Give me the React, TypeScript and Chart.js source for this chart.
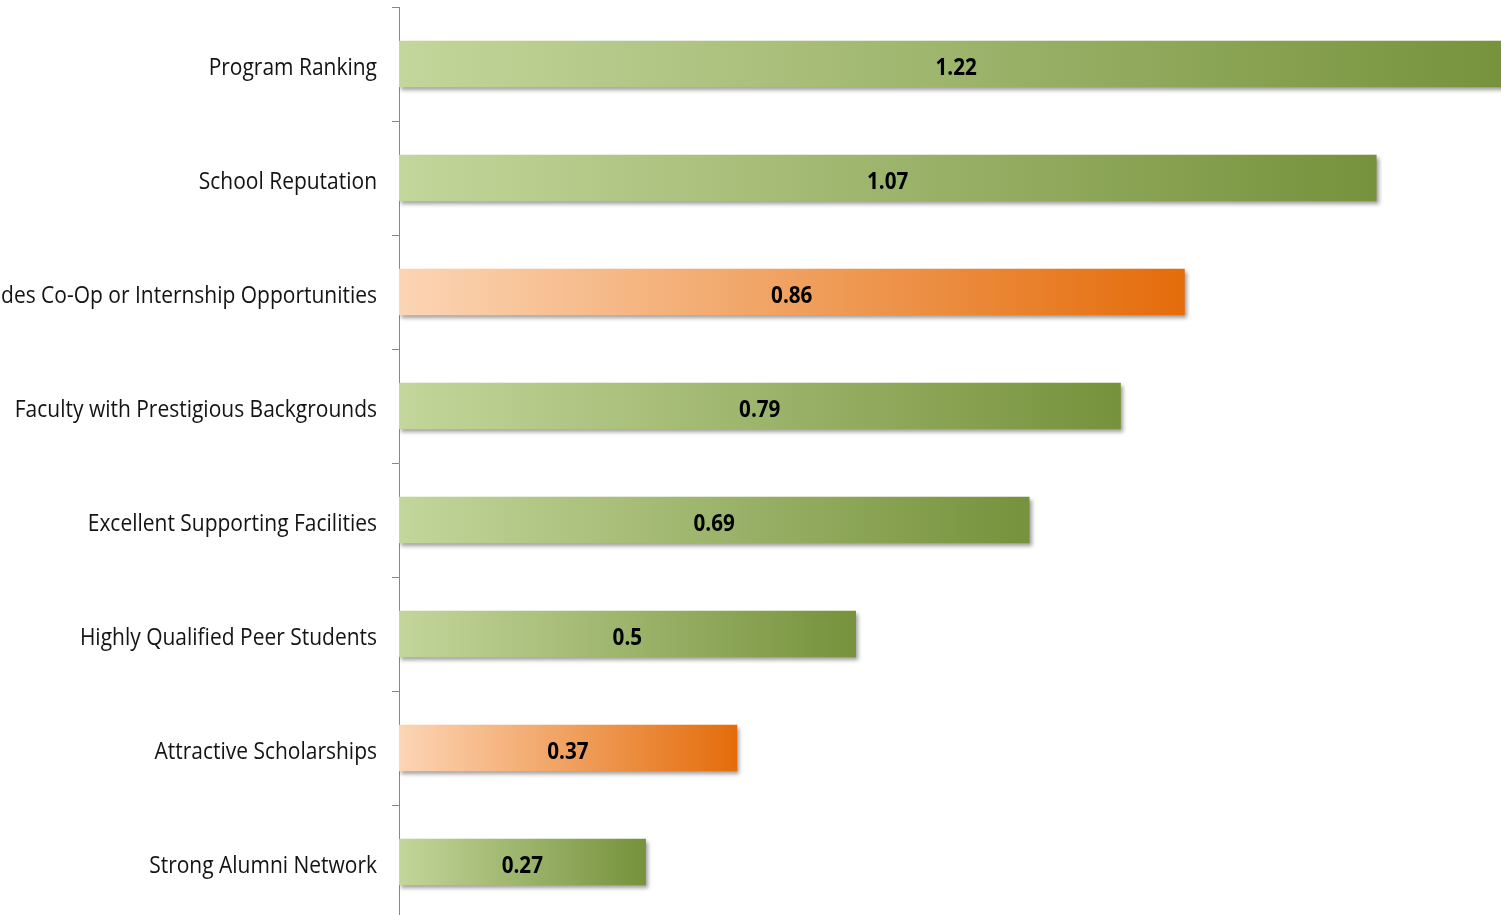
import React, { useEffect, useRef } from "react";
import { Chart, registerables } from "chart.js";

Chart.register(...registerables);

const CATEGORIES = [
  "Program Ranking",
  "School Reputation",
  "Provides Co-Op or Internship Opportunities",
  "Faculty with Prestigious Backgrounds",
  "Excellent Supporting Facilities",
  "Highly Qualified Peer Students",
  "Attractive Scholarships",
  "Strong Alumni Network",
];
const VALUES = [1.22, 1.07, 0.86, 0.79, 0.69, 0.5, 0.37, 0.27];
const VALUE_LABELS = ["1.22", "1.07", "0.86", "0.79", "0.69", "0.5", "0.37", "0.27"];
const HIGHLIGHTED = ["Provides Co-Op or Internship Opportunities", "Attractive Scholarships"];

const GREEN = ["#c3d69b", "#76923c"];
const ORANGE = ["#fcd5b5", "#e46c0a"];
const AXIS_COLOR = "#878787";
const LABEL_FONT = "24px 'Open Sans'";
const LABEL_SCALE = 0.874;
const VALUE_FONT = "bold 24px 'Open Sans'";
const VALUE_SCALE = 0.86;

const shadowPlugin = {
  id: "barShadow",
  beforeDatasetsDraw(chart: any) {
    const ctx = chart.ctx;
    ctx.save();
    ctx.shadowColor = "rgba(0,0,0,0.38)";
    ctx.shadowBlur = 4;
    ctx.shadowOffsetX = 2;
    ctx.shadowOffsetY = 3;
  },
  afterDatasetsDraw(chart: any) {
    chart.ctx.restore();
  },
};

const labelPlugin = {
  id: "customLabels",
  afterDraw(chart: any) {
    const ctx = chart.ctx;
    const xs = chart.scales.x;
    const ys = chart.scales.y;
    CATEGORIES.forEach((label, i) => {
      const y = ys.getPixelForValue(i);
      ctx.save();
      ctx.translate(ys.right - 22, y);
      ctx.scale(LABEL_SCALE, 1);
      ctx.font = LABEL_FONT;
      ctx.fillStyle = "#141414";
      ctx.textAlign = "right";
      ctx.textBaseline = "middle";
      ctx.fillText(label, 0, 4);
      ctx.restore();
    });
    const meta = chart.getDatasetMeta(0);
    meta.data.forEach((el: any, i: number) => {
      const x = xs.getPixelForValue(VALUES[i] / 2);
      ctx.save();
      ctx.translate(x, el.y);
      ctx.scale(VALUE_SCALE, 1);
      ctx.font = VALUE_FONT;
      ctx.fillStyle = "#000";
      ctx.textAlign = "center";
      ctx.textBaseline = "middle";
      ctx.fillText(VALUE_LABELS[i], 0, 4);
      ctx.restore();
    });
  },
};

export default function App() {
  const ref = useRef<HTMLCanvasElement | null>(null);

  useEffect(() => {
    if (!ref.current) return;
    const chart = new Chart(ref.current, {
      type: "bar",
      data: {
        labels: CATEGORIES,
        datasets: [
          {
            data: VALUES,
            borderWidth: 0,
            barThickness: 46,
            backgroundColor: (c: any) => {
              const pal = HIGHLIGHTED.includes(CATEGORIES[c.dataIndex]) ? ORANGE : GREEN;
              const xs = c.chart.scales?.x;
              if (!xs || c.type !== "data") return pal[1];
              const x0 = xs.getPixelForValue(0);
              const x1 = xs.getPixelForValue(VALUES[c.dataIndex]);
              if (!isFinite(x0) || !isFinite(x1) || x1 <= x0) return pal[1];
              const g = c.chart.ctx.createLinearGradient(x0, 0, x1, 0);
              g.addColorStop(0, pal[0]);
              g.addColorStop(1, pal[1]);
              return g;
            },
          },
        ],
      },
      options: {
        indexAxis: "y",
        responsive: false,
        animation: false,
        devicePixelRatio: 1,
        layout: { padding: { top: 7, left: 0, right: 0, bottom: 0 } },
        plugins: {
          legend: { display: false },
          tooltip: { enabled: false },
        },
        scales: {
          x: { display: false, min: 0, max: 1.2066 },
          y: {
            offset: true,
            grid: {
              display: true,
              offset: true,
              drawOnChartArea: false,
              drawTicks: true,
              tickLength: 7,
              color: AXIS_COLOR,
              lineWidth: 1,
            },
            border: { display: true, color: AXIS_COLOR, width: 1 },
            ticks: { display: false },
            afterFit: (s: any) => {
              s.width = 399;
            },
          },
        },
      } as any,
      plugins: [shadowPlugin, labelPlugin],
    });
    return () => chart.destroy();
  }, []);

  return (
    <div
      style={{
        position: "fixed",
        left: 0,
        top: 0,
        width: 1501,
        height: 915,
        overflow: "hidden",
        background: "#fff",
      }}
    >
      <canvas ref={ref} width={1501} height={919} style={{ display: "block" }} />
    </div>
  );
}
